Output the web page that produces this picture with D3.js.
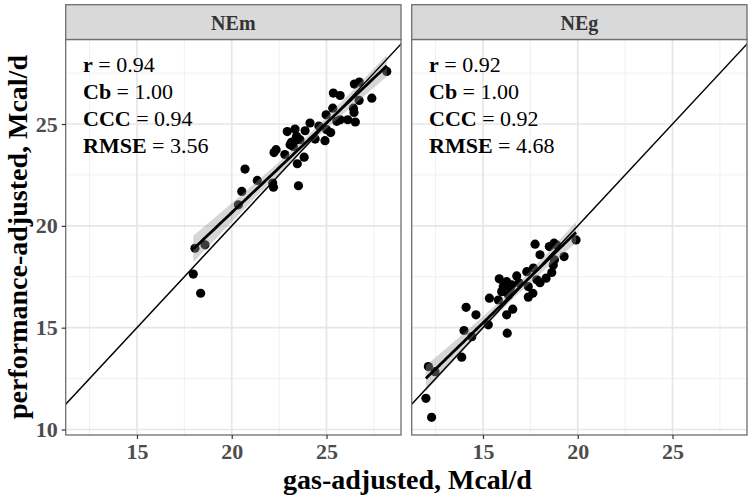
<!DOCTYPE html>
<html><head><meta charset="utf-8">
<script src="https://cdn.jsdelivr.net/npm/d3@7"></script>
<style>body{margin:0;background:#fff}svg{display:block}</style>
</head><body><svg id="c" width="752" height="502"></svg>
<script>
const panels = ["NEm", "NEg"];
const xTicks = [15, 20, 25];
const yTicks = [10, 15, 20, 25];
const minorTicks = [12.5, 17.5, 22.5, 27.5];
const nemX = [18.06,18.59,17.97,18.36,20.35,20.53,20.70,21.35,22.16,22.20,22.23,22.34,22.93,23.08,23.25,23.34,23.34,23.46,23.52,23.60,23.82,23.87,24.13,24.40,24.92,24.98,25.01,25.22,25.33,25.36,25.54,25.72,25.72,26.12,26.42,26.45,26.52,26.47,26.73,26.72,27.39,28.18,23.15,23.42,22.80,24.60];
const nemY = [18.90,19.07,17.63,16.69,21.03,21.69,22.79,22.23,22.10,21.90,23.60,23.74,24.63,23.98,23.90,24.75,24.19,23.05,21.97,24.23,23.37,24.67,25.05,24.26,24.18,25.45,24.72,24.58,25.78,26.52,25.13,26.40,25.21,25.21,25.78,25.57,25.10,26.96,27.06,26.16,26.27,27.58,24.10,24.40,23.50,24.90];
const negX = [19.91,19.28,18.75,18.50,17.75,18.01,18.77,18.71,18.63,18.33,18.01,17.84,17.66,17.31,17.39,17.63,17.39,16.78,16.52,16.25,15.86,16.07,15.99,16.43,15.34,15.81,16.57,16.25,16.28,14.11,14.63,15.28,14.00,14.41,13.88,12.12,12.47,11.99,12.29,18.90,16.90,16.35];
const negY = [19.31,18.49,19.15,18.98,19.10,18.58,18.33,18.08,17.71,17.43,17.21,17.35,17.93,17.75,17.02,16.69,16.50,17.54,17.10,17.26,17.40,17.02,16.77,16.94,16.45,16.36,15.91,15.63,14.73,16.00,15.63,15.14,14.86,14.56,13.55,13.09,12.84,11.53,10.60,19.05,17.20,16.60];
const statLabels = ["r", "Cb", "CCC", "RMSE"];
const nemStats = ["0.94", "1.00", "0.94", "3.56"];
const negStats = ["0.92", "1.00", "0.92", "4.68"];

const data = [
  {name: panels[0], x: nemX, y: nemY, stats: nemStats},
  {name: panels[1], x: negX, y: negY, stats: negStats}
];

const svg = d3.select("#c");
const font = "'Liberation Serif','Times New Roman',serif";
const pTop = 39.5, pBot = 435, stripTop = 4.7;
const pW = 335.3, pH = pBot - pTop;
const pLefts = [65.7, 411.7];
const x = d3.scaleLinear().domain([11.24, 28.93]).range([0, pW]);
const y = d3.scaleLinear().domain([9.73, 29.15]).range([pH, 0]);

function fit(xs, ys) {
  const n = xs.length, mx = d3.mean(xs), my = d3.mean(ys);
  let sxx = 0, sxy = 0;
  for (let i = 0; i < n; i++) { sxx += (xs[i]-mx)**2; sxy += (xs[i]-mx)*(ys[i]-my); }
  const b = sxy / sxx, a = my - b * mx;
  let sse = 0;
  for (let i = 0; i < n; i++) sse += (ys[i] - a - b*xs[i])**2;
  const s = Math.sqrt(sse / (n - 2));
  return {a, b, s, n, mx, sxx, min: d3.min(xs), max: d3.max(xs)};
}

data.forEach((d, i) => {
  const g = svg.append("g").attr("transform", `translate(${pLefts[i]},${pTop})`);
  const cid = "clip" + i;
  g.append("clipPath").attr("id", cid).append("rect").attr("width", pW).attr("height", pH);
  // grid
  g.selectAll(".mnx").data(minorTicks).join("line")
    .attr("x1", v => x(v)).attr("x2", v => x(v)).attr("y1", 0).attr("y2", pH)
    .attr("stroke", "#f0f0f0").attr("stroke-width", 1);
  g.selectAll(".mny").data(minorTicks).join("line")
    .attr("y1", v => y(v)).attr("y2", v => y(v)).attr("x1", 0).attr("x2", pW)
    .attr("stroke", "#f0f0f0").attr("stroke-width", 1);
  g.selectAll(".mjx").data(xTicks).join("line")
    .attr("x1", v => x(v)).attr("x2", v => x(v)).attr("y1", 0).attr("y2", pH)
    .attr("stroke", "#e6e6e6").attr("stroke-width", 1.7);
  g.selectAll(".mjy").data(yTicks).join("line")
    .attr("y1", v => y(v)).attr("y2", v => y(v)).attr("x1", 0).attr("x2", pW)
    .attr("stroke", "#e6e6e6").attr("stroke-width", 1.7);

  const inner = g.append("g").attr("clip-path", `url(#${cid})`);
  // points
  inner.selectAll("circle").data(d.x.map((v, k) => [v, d.y[k]])).join("circle")
    .attr("cx", p => x(p[0])).attr("cy", p => y(p[1])).attr("r", 4.6).attr("fill", "#000");
  // regression
  const f = fit(d.x, d.y);
  const t = 2.02;
  const xs = d3.range(0, 81).map(k => f.min + (f.max - f.min) * k / 80);
  const band = xs.map(v => {
    const yh = f.a + f.b * v;
    const se = f.s * Math.sqrt(1 / f.n + (v - f.mx) ** 2 / f.sxx);
    return {v, lo: yh - t * se, hi: yh + t * se, yh};
  });
  inner.append("path").datum(band)
    .attr("d", d3.area().x(p => x(p.v)).y0(p => y(p.lo)).y1(p => y(p.hi)))
    .attr("fill", "#999").attr("opacity", 0.4);
  inner.append("path").datum(band)
    .attr("d", d3.line().x(p => x(p.v)).y(p => y(p.yh)))
    .attr("fill", "none").attr("stroke", "#000").attr("stroke-width", 2.8);
  // identity
  inner.append("line")
    .attr("x1", x(x.domain()[0])).attr("y1", y(x.domain()[0]))
    .attr("x2", x(y.domain()[1])).attr("y2", y(y.domain()[1]))
    .attr("stroke", "#000").attr("stroke-width", 1.5);

  // border
  g.append("rect").attr("width", pW).attr("height", pH)
    .attr("fill", "none").attr("stroke", "#6e6e6e").attr("stroke-width", 1.3);
  // strip
  g.append("rect").attr("y", stripTop - pTop).attr("width", pW).attr("height", pTop - stripTop)
    .attr("fill", "#d9d9d9").attr("stroke", "#6e6e6e").attr("stroke-width", 1.3);
  g.append("text").attr("x", pW / 2).attr("y", 30 - pTop).attr("text-anchor", "middle")
    .attr("font-family", font).attr("font-weight", "bold").attr("font-size", 20)
    .attr("fill", "#333").text(d.name);

  // stats annotation
  statLabels.forEach((lab, k) => {
    const tx = g.append("text").attr("x", 17.3).attr("y", 32.8 + k * 27)
      .attr("font-family", font).attr("font-size", 22).attr("fill", "#000");
    tx.append("tspan").attr("font-weight", "bold").text(lab);
    tx.append("tspan").text(" = " + d.stats[k]);
  });

  // x axis
  const xa = g.append("g").attr("transform", `translate(0,${pH})`)
    .call(d3.axisBottom(x).tickValues(xTicks).tickSize(4).tickPadding(4).tickFormat(d3.format("d")));
  xa.select(".domain").remove();
  xa.selectAll("line").attr("stroke", "#333").attr("stroke-width", 1.2);
  xa.selectAll("text").attr("font-family", font).attr("font-weight", "bold")
    .attr("font-size", 22).attr("fill", "#4d4d4d");

  if (i === 0) {
    const ya = g.append("g")
      .call(d3.axisLeft(y).tickValues(yTicks).tickSize(4).tickPadding(4).tickFormat(d3.format("d")));
    ya.select(".domain").remove();
    ya.selectAll("line").attr("stroke", "#333").attr("stroke-width", 1.2);
    ya.selectAll("text").attr("font-family", font).attr("font-weight", "bold")
      .attr("font-size", 22).attr("fill", "#4d4d4d");
  }
});

svg.append("text").attr("x", 407.5).attr("y", 489).attr("text-anchor", "middle")
  .attr("font-family", font).attr("font-weight", "bold").attr("font-size", 28)
  .attr("fill", "#000").text("gas-adjusted, Mcal/d");
svg.append("text").attr("transform", "translate(27,237) rotate(-90)").attr("text-anchor", "middle")
  .attr("font-family", font).attr("font-weight", "bold").attr("font-size", 28)
  .attr("fill", "#000").text("performance-adjusted, Mcal/d");
</script></body></html>
